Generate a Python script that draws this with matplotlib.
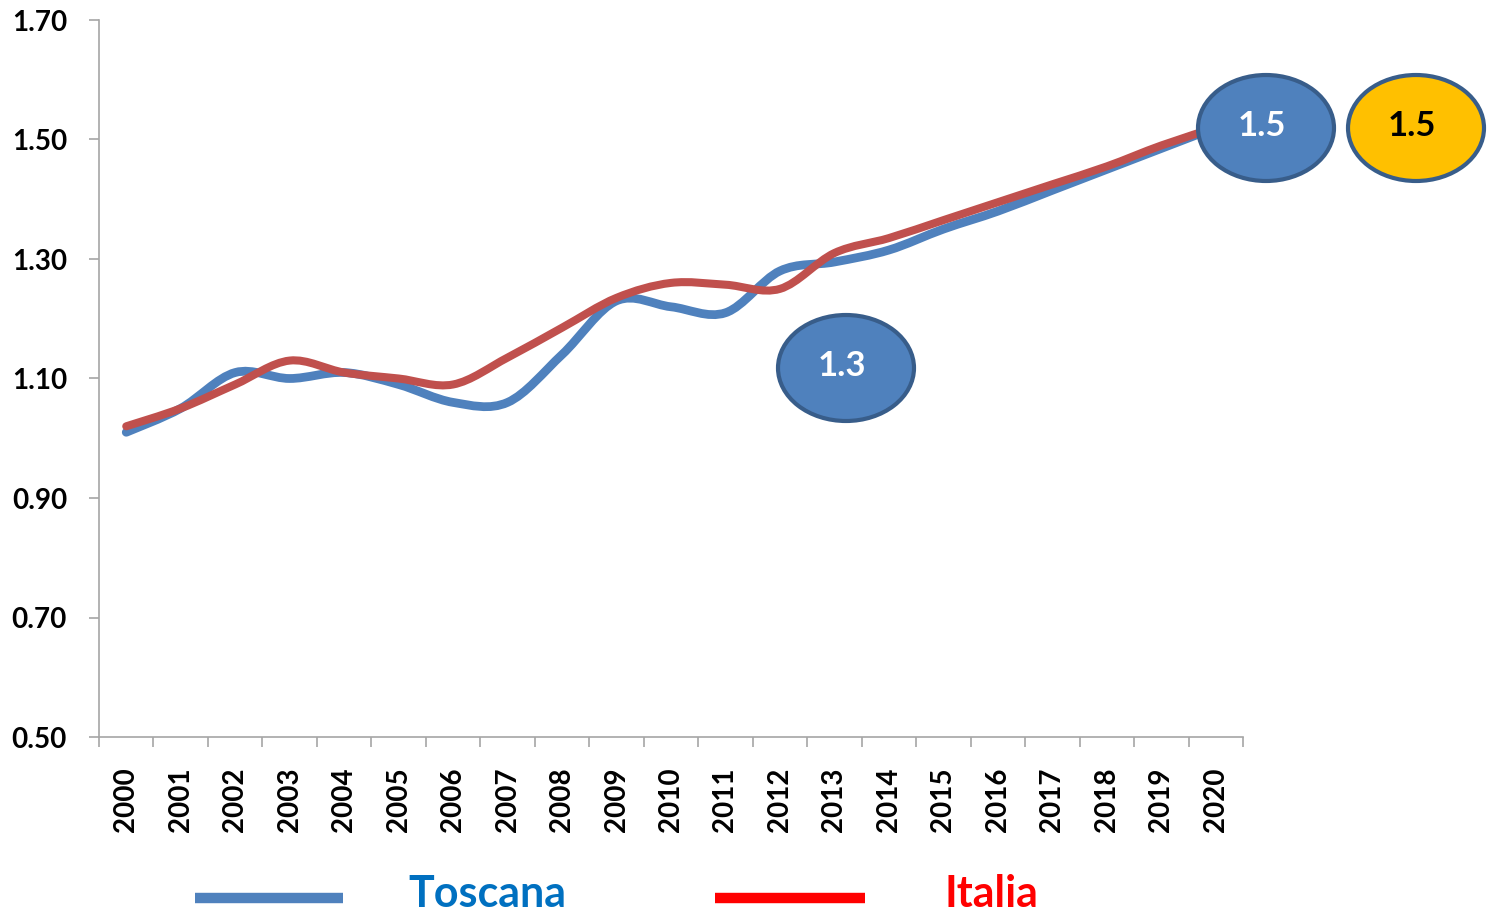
import matplotlib
matplotlib.use("Agg")
import matplotlib.pyplot as plt
import numpy as np
from matplotlib.path import Path
from matplotlib.patches import PathPatch, Ellipse
from matplotlib.lines import Line2D

plt.rcParams['font.family'] = ['Lato', 'DejaVu Sans']

# data
years = [str(y) for y in range(2000, 2021)]
toscana = [1.01, 1.05, 1.11, 1.10, 1.11, 1.09, 1.06, 1.06, 1.14, 1.23, 1.22,
           1.21, 1.28, 1.295, 1.315, 1.35, 1.38, 1.415, 1.45, 1.485, 1.52]
italia = [1.02, 1.05, 1.09, 1.13, 1.11, 1.10, 1.09, 1.135, 1.185, 1.235, 1.26,
          1.257, 1.25, 1.31, 1.335, 1.365, 1.395, 1.425, 1.455, 1.49, 1.52]
yticks = [0.50, 0.70, 0.90, 1.10, 1.30, 1.50, 1.70]


def smooth_path(xs, ys):
    # Bezier segments like a spreadsheet "smoothed line"
    pts = np.column_stack([xs, ys]).astype(float)
    n = len(pts)
    verts = [pts[0]]
    codes = [Path.MOVETO]
    for i in range(n - 1):
        p0 = pts[i - 1] if i > 0 else pts[i]
        p1 = pts[i]
        p2 = pts[i + 1]
        p3 = pts[i + 2] if i + 2 < n else pts[i + 1]
        c1 = p1 + (p2 - p0) / 6.0
        c2 = p2 - (p3 - p1) / 6.0
        verts += [c1, c2, p2]
        codes += [Path.CURVE4] * 3
    return Path(verts, codes)


W, H = 1498, 913
fig = plt.figure(figsize=(W / 100, H / 100), dpi=100)
ax = fig.add_axes([99 / W, 1 - 737 / H, (1243 - 99) / W, (737 - 20) / H])

x = np.arange(len(years))
ax.add_patch(PathPatch(smooth_path(x, toscana), facecolor='none',
                       edgecolor='#4F81BD', lw=6.3, capstyle='round', zorder=2))
ax.add_patch(PathPatch(smooth_path(x, italia), facecolor='none',
                       edgecolor='#C0504D', lw=5.8, capstyle='round', zorder=3))

ax.set_xlim(-0.5, len(years) - 0.5)
ax.set_ylim(0.50, 1.70)
ax.set_yticks(yticks)
ax.set_yticklabels([f"{v:.2f}" for v in yticks], fontsize=20, fontweight='bold')
ax.set_xticks(x)
ax.set_xticklabels(years, rotation=90, fontsize=20, fontweight='bold')
ax.set_xticks(np.arange(-0.5, len(years)), minor=True)
ax.tick_params(axis='x', which='major', length=0, pad=22)
ax.tick_params(axis='x', which='minor', length=7, color='#A6A6A6', width=1.2)
ax.tick_params(axis='y', length=7, color='#A6A6A6', width=1.2, pad=16)
for s in ['top', 'right']:
    ax.spines[s].set_visible(False)
for s in ['left', 'bottom']:
    ax.spines[s].set_color('#A6A6A6')
    ax.spines[s].set_linewidth(1.2)

# value bubbles
bubbles = [(846, 368, '#4F81BD', 'white', '1.3'),
           (1266, 128, '#4F81BD', 'white', '1.5'),
           (1416, 128, '#FFC000', 'black', '1.5')]
for cx, cy, fc, tc, txt in bubbles:
    e = Ellipse((cx / W, 1 - cy / H), 136 / W, 106 / H, transform=fig.transFigure,
                facecolor=fc, edgecolor='#385D8A', lw=3, zorder=5)
    fig.add_artist(e)
    fig.text(cx / W - 4 / W, 1 - (cy - 2) / H, txt, color=tc, fontsize=25, fontweight='bold',
             ha='center', va='center', zorder=6)

# legend
fig.add_artist(Line2D([195 / W, 343 / W], [1 - 898 / H] * 2, color='#4F81BD',
                      lw=7.5, solid_capstyle='butt', transform=fig.transFigure))
fig.text(408 / W, 1 - 894 / H, 'Toscana', color='#0070C0', fontsize=31,
         fontweight='bold', ha='left', va='center')
fig.add_artist(Line2D([715 / W, 865 / W], [1 - 898 / H] * 2, color='#FF0000',
                      lw=7.5, solid_capstyle='butt', transform=fig.transFigure))
fig.text(945 / W, 1 - 894 / H, 'Italia', color='#FF0000', fontsize=31,
         fontweight='bold', ha='left', va='center')

fig.savefig('out.png', dpi=100)
